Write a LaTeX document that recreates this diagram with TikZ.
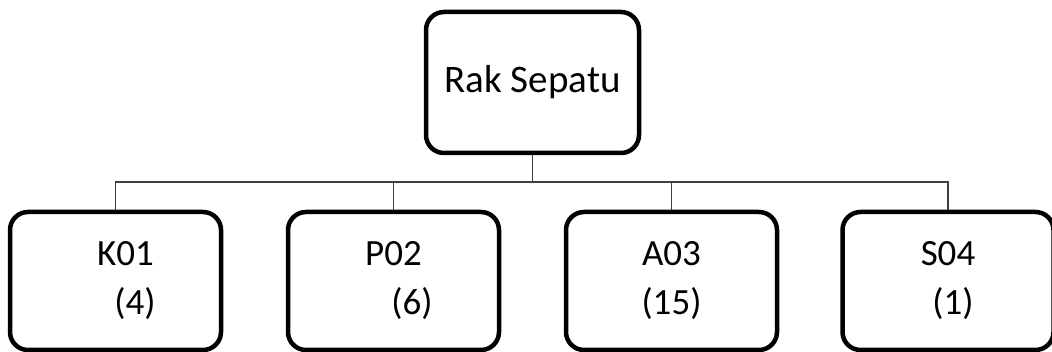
\documentclass[tikz,border=0pt]{standalone}
\usepackage{fontspec}
\setmainfont{Carlito}
\begin{document}
\begin{tikzpicture}[x=1pt,y=-1pt,
  box/.style={draw=black, line width=4.5pt, rounded corners=18pt, inner sep=0pt, align=center},
  topbox/.style={box, minimum width=213pt, minimum height=141pt, font=\fontsize{39}{47}\selectfont},
  leaf/.style={box, minimum width=211pt, minimum height=138pt, font=\fontsize{37}{49}\selectfont},
  conn/.style={draw=black!75, line width=1.4pt}]
\useasboundingbox (0,0) rectangle (1052,352);
\node[topbox] (top) at (532.5,82.5) {Rak Sepatu};
\node[leaf] (k) at (115.5,281) {\hspace*{20pt}K01\\\hspace*{39pt}(4)};
\node[leaf] (p) at (393.5,281) {P02\\\hspace*{37pt}(6)};
\node[leaf] (a) at (671.5,281) {A03\\(15)};
\node[leaf] (s) at (948,281) {S04\\\hspace*{10pt}(1)};
\coordinate (bus) at (532.5,182);
\draw[conn] (top.south) -- (bus);
\draw[conn] (bus) -| (k.north);
\draw[conn] (bus) -| (p.north);
\draw[conn] (bus) -| (a.north);
\draw[conn] (bus) -| (s.north);
\end{tikzpicture}
\end{document}
